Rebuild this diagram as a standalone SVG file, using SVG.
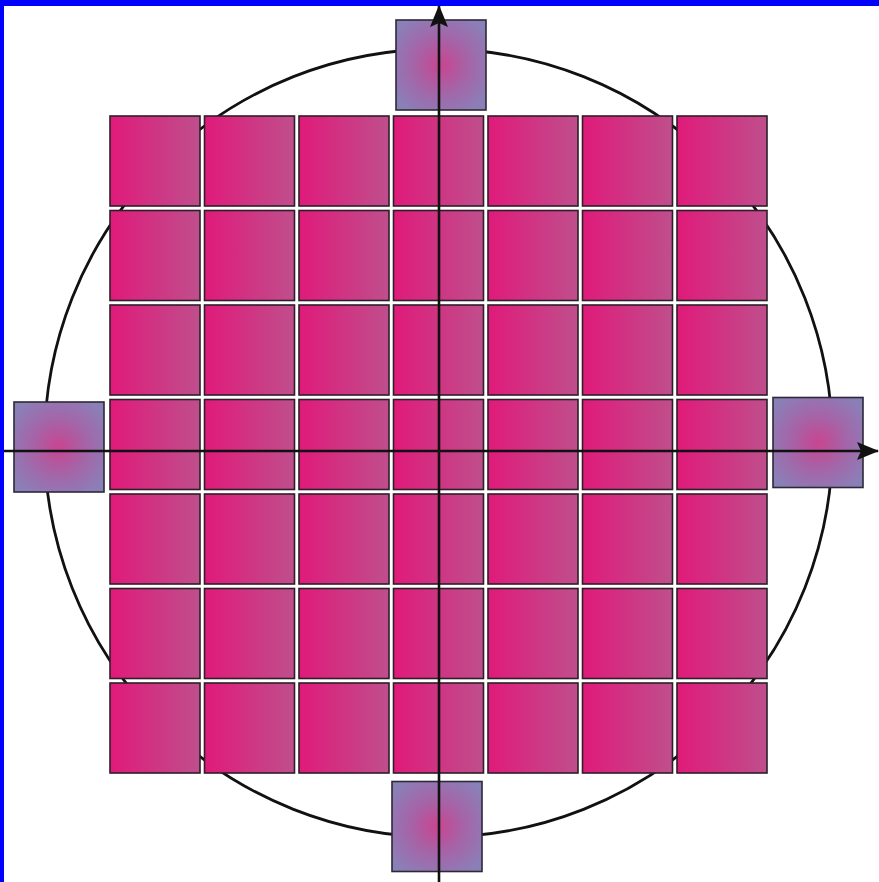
<svg xmlns="http://www.w3.org/2000/svg" width="879" height="882" viewBox="0 0 879 882">
<defs>
<linearGradient id="pink" x1="0" y1="0" x2="1" y2="0">
<stop offset="0" stop-color="#e01a7a"/>
<stop offset="1" stop-color="#bf4f8c"/>
</linearGradient>
<radialGradient id="purp" cx="0.5" cy="0.5" r="0.62">
<stop offset="0" stop-color="#c84590"/>
<stop offset="0.5" stop-color="#a465a8"/>
<stop offset="1" stop-color="#8a80b8"/>
</radialGradient>
<marker id="arr" viewBox="0 0 22 18" refX="21" refY="9" markerWidth="22" markerHeight="18" markerUnits="userSpaceOnUse" orient="auto">
<path d="M0,0 L22,9 L0,18 L4,9 Z" fill="#111"/>
</marker>
<rect id="sq" width="90" height="90"/>
</defs>
<style>
.cell{fill:url(#pink);stroke:#2e1e28;stroke-width:1.6}
.pad{fill:url(#purp);stroke:#2e2838;stroke-width:1.6}
.axis{stroke:#111;stroke-width:2.6;fill:none}
.wafer{stroke:#111;stroke-width:2.8;fill:none}
</style>
<rect width="879" height="882" fill="#fff"/>
<rect x="0" y="0" width="879" height="6" fill="#0000ff"/>
<rect x="0" y="0" width="4" height="882" fill="#0000ff"/>
<circle class="wafer" cx="438.5" cy="443" r="394"/>
<g id="grid">
<g id="r0"><use href="#sq" class="cell" x="110" y="116"/><use href="#sq" class="cell" x="204.5" y="116"/><use href="#sq" class="cell" x="299" y="116"/><use href="#sq" class="cell" x="393.5" y="116"/><use href="#sq" class="cell" x="488" y="116"/><use href="#sq" class="cell" x="582.5" y="116"/><use href="#sq" class="cell" x="677" y="116"/></g>
<g id="r1"><use href="#sq" class="cell" x="110" y="210.5"/><use href="#sq" class="cell" x="204.5" y="210.5"/><use href="#sq" class="cell" x="299" y="210.5"/><use href="#sq" class="cell" x="393.5" y="210.5"/><use href="#sq" class="cell" x="488" y="210.5"/><use href="#sq" class="cell" x="582.5" y="210.5"/><use href="#sq" class="cell" x="677" y="210.5"/></g>
<g id="r2"><use href="#sq" class="cell" x="110" y="305"/><use href="#sq" class="cell" x="204.5" y="305"/><use href="#sq" class="cell" x="299" y="305"/><use href="#sq" class="cell" x="393.5" y="305"/><use href="#sq" class="cell" x="488" y="305"/><use href="#sq" class="cell" x="582.5" y="305"/><use href="#sq" class="cell" x="677" y="305"/></g>
<g id="r3"><use href="#sq" class="cell" x="110" y="399.5"/><use href="#sq" class="cell" x="204.5" y="399.5"/><use href="#sq" class="cell" x="299" y="399.5"/><use href="#sq" class="cell" x="393.5" y="399.5"/><use href="#sq" class="cell" x="488" y="399.5"/><use href="#sq" class="cell" x="582.5" y="399.5"/><use href="#sq" class="cell" x="677" y="399.5"/></g>
<g id="r4"><use href="#sq" class="cell" x="110" y="494"/><use href="#sq" class="cell" x="204.5" y="494"/><use href="#sq" class="cell" x="299" y="494"/><use href="#sq" class="cell" x="393.5" y="494"/><use href="#sq" class="cell" x="488" y="494"/><use href="#sq" class="cell" x="582.5" y="494"/><use href="#sq" class="cell" x="677" y="494"/></g>
<g id="r5"><use href="#sq" class="cell" x="110" y="588.5"/><use href="#sq" class="cell" x="204.5" y="588.5"/><use href="#sq" class="cell" x="299" y="588.5"/><use href="#sq" class="cell" x="393.5" y="588.5"/><use href="#sq" class="cell" x="488" y="588.5"/><use href="#sq" class="cell" x="582.5" y="588.5"/><use href="#sq" class="cell" x="677" y="588.5"/></g>
<g id="r6"><use href="#sq" class="cell" x="110" y="683"/><use href="#sq" class="cell" x="204.5" y="683"/><use href="#sq" class="cell" x="299" y="683"/><use href="#sq" class="cell" x="393.5" y="683"/><use href="#sq" class="cell" x="488" y="683"/><use href="#sq" class="cell" x="582.5" y="683"/><use href="#sq" class="cell" x="677" y="683"/></g>
</g>
<g id="pad-top"><use href="#sq" class="pad" x="396" y="20"/></g>
<g id="pad-right"><use href="#sq" class="pad" x="773" y="397.5"/></g>
<g id="pad-left"><use href="#sq" class="pad" x="14" y="402"/></g>
<g id="pad-bottom"><use href="#sq" class="pad" x="392" y="781.5"/></g>
<g id="connectors">
<line class="axis" x1="439" y1="882" x2="439" y2="6" marker-end="url(#arr)"/>
<line class="axis" x1="4" y1="451" x2="878" y2="451" marker-end="url(#arr)"/>
</g>
</svg>
